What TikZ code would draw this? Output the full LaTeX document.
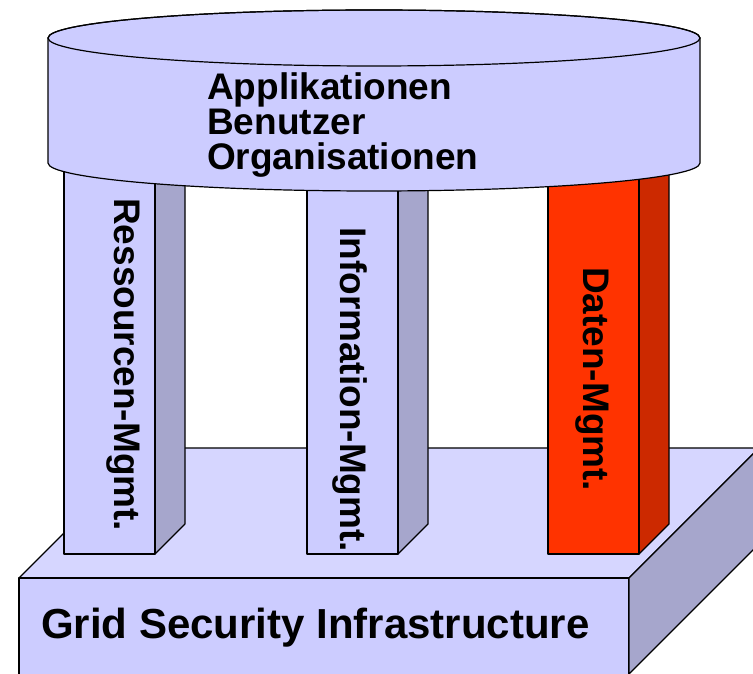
\documentclass[tikz,border=0pt]{standalone}
\usepackage{fontspec}
\setmainfont{Liberation Sans}
\usepackage{tikz}
\usepackage{xcolor}
\definecolor{diskfill}{RGB}{204, 204, 255}
\definecolor{slabtop}{RGB}{214, 214, 255}
\definecolor{sidegray}{RGB}{166, 166, 204}
\definecolor{datared}{RGB}{255, 51, 0}
\definecolor{datadark}{RGB}{204, 41, 0}

\begin{document}
\begin{tikzpicture}[
    x=1pt, y=1pt,
    face/.style={draw=black, line width=1.2pt, line join=round},
    label/.style={inner sep=0pt, font=\bfseries\fontsize{37}{35}\selectfont},
    pillarlabel/.style={label, rotate=-90, anchor=base west}
]
\useasboundingbox (0,0) rectangle (753,673);
\clip (0,0) rectangle (753,673);

% Base slab
\filldraw[face, fill=slabtop] (19,95) -- (149,225) -- (759,225) -- (629,95) -- cycle;
\filldraw[face, fill=diskfill] (19,95) rectangle (629,-2);
\filldraw[face, fill=sidegray] (629,95) -- (759,225) -- (759,129) -- (629,-1) -- cycle;

% Pillars
\foreach \px/\front/\side in {64/diskfill/sidegray, 307/diskfill/sidegray, 548/datared/datadark} {
    \filldraw[face, fill=\side] (\px+91,119) -- (\px+121,149) -- (\px+121,523) -- (\px+91,523) -- cycle;
    \filldraw[face, fill=\front] (\px,119) rectangle (\px+91,523);
}

% Disk on top
\filldraw[face, fill=diskfill] (48,635) -- (48,510) arc[start angle=180, end angle=360, x radius=326, y radius=28]
    -- (700,635) arc[start angle=0, end angle=180, x radius=326, y radius=28] -- cycle;
\draw[face] (374,635) ellipse [x radius=326, y radius=28];

% Labels
\node[label, anchor=north west, align=left] (apps) at (207,601) {Applikationen\\Benutzer\\Organisationen};
\node[pillarlabel] (res) at (114,475) {Ressourcen-Mgmt.};
\node[pillarlabel] (info) at (340,446) {Information-Mgmt.};
\node[pillarlabel] (daten) at (583,406) {Daten-Mgmt.};
\node[label, anchor=base west, font=\bfseries\fontsize{42}{42}\selectfont] (gsi) at (41,35) {Grid Security Infrastructure};

\end{tikzpicture}
\end{document}
